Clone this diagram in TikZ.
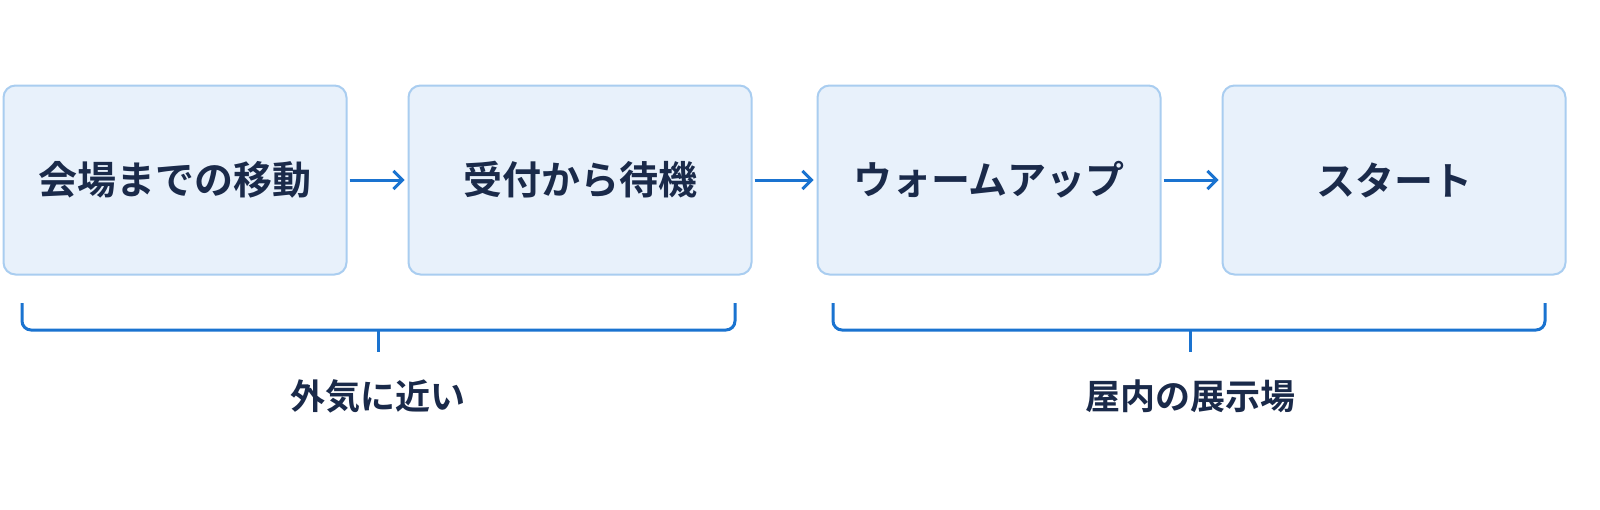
\documentclass[tikz,border=0pt]{standalone}
\usepackage{fontspec}
\usetikzlibrary{arrows.meta}
\newfontfamily\cjk{Noto Sans CJK JP}[BoldFont={Noto Sans CJK JP Bold}]
\definecolor{boxline}{HTML}{A9CDF0}
\definecolor{boxfill}{HTML}{E8F1FB}
\definecolor{blu}{HTML}{1A73D0}
\definecolor{navy}{HTML}{1A2A4A}
\begin{document}
\begin{tikzpicture}[x=1pt,y=-1pt,
  box/.style={draw=boxline,fill=boxfill,line width=2pt,rounded corners=12pt,minimum width=343pt,minimum height=189pt,font=\cjk\bfseries\fontsize{39}{44}\selectfont,text=navy},
  arr/.style={draw=blu,line width=3pt,-{Straight Barb[length=9pt,width=18pt]}},
  brace/.style={draw=blu,line width=3pt,rounded corners=9pt},
  lab/.style={font=\cjk\bfseries\fontsize{35}{40}\selectfont,text=navy}]
\fill[white] (0,0) rectangle (1600,509);
\node[box] (a) at (175,180) {会場までの移動};
\node[box] (b) at (580,180) {受付から待機};
\node[box] (c) at (989,180) {ウォームアップ};
\node[box] (d) at (1394,180) {スタート};
\draw[arr] ([xshift=2pt]a.east) -- ([xshift=-3pt]b.west);
\draw[arr] ([xshift=2pt]b.east) -- ([xshift=-3pt]c.west);
\draw[arr] ([xshift=2pt]c.east) -- ([xshift=-3pt]d.west);
\coordinate (l1) at (22,303); \coordinate (r1) at (735,303); \coordinate (m1) at (378,352);
\coordinate (l2) at (833,303); \coordinate (r2) at (1545,303); \coordinate (m2) at (1190,352);
\draw[brace] (l1) -- (22,330) -- (735,330) -- (r1);
\draw[brace] (378,330) -- (m1);
\draw[brace] (l2) -- (833,330) -- (1545,330) -- (r2);
\draw[brace] (1190,330) -- (m2);
\node[lab] (t1) at (378,396) {外気に近い};
\node[lab] (t2) at (1190,396) {屋内の展示場};
\pgfresetboundingbox
\useasboundingbox (0,0) rectangle (1600,509);
\end{tikzpicture}
\end{document}
